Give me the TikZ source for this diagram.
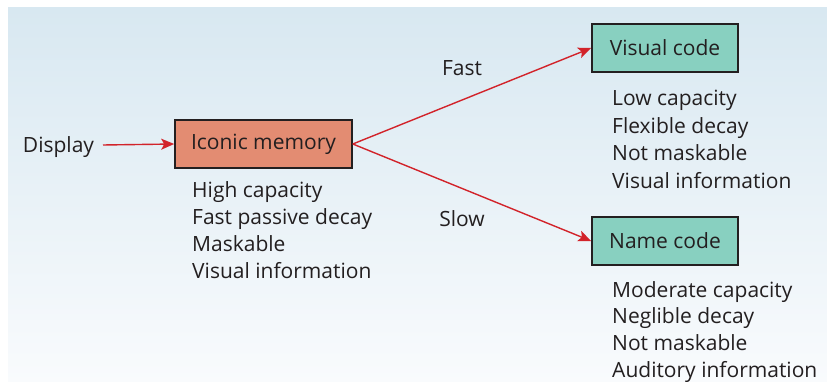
\documentclass[tikz,border=0pt]{standalone}
\usepackage{fontspec}
\setmainfont{Open Sans}
\usetikzlibrary{arrows.meta}
\definecolor{bgtop}{HTML}{D8E8F1}
\definecolor{bgbot}{HTML}{F9FBFD}
\definecolor{iconfill}{HTML}{E38C72}
\definecolor{codefill}{HTML}{88D0C0}
\definecolor{edge}{HTML}{231F20}
\definecolor{arrowred}{HTML}{D2232A}
\tikzset{
  stagebox/.style={draw=edge, line width=1.6pt, minimum height=48pt, inner sep=0pt, font=\fontsize{21}{25}\selectfont, text=edge},
  propline/.style={anchor=base west, inner sep=0pt, font=\fontsize{21}{25}\selectfont, text=edge},
  lbl/.style={anchor=base, font=\fontsize{21}{25}\selectfont, text=edge, inner sep=0pt},
  flow/.style={draw=arrowred, line width=1.4pt, -{Stealth[length=13pt,width=11pt,inset=3pt]}}
}
\begin{document}
\begin{tikzpicture}[x=1pt,y=-1pt]
  \useasboundingbox (0,0) rectangle (827,382);
  \shade[top color=bgtop, bottom color=bgbot] (8,8) rectangle (827,382);

  % stages
  \node[stagebox, fill=iconfill, minimum width=177pt] (icon) at (263.5,144) {Iconic memory};
  \node[stagebox, fill=codefill, minimum width=146pt] (vis) at (665,48) {Visual code};
  \node[stagebox, fill=codefill, minimum width=146pt] (name) at (665,241) {Name code};

  % input
  \node[lbl] (disp) at (58.5,153) {Display};
  \coordinate (din) at (103,145);
  \draw[flow] (din) -- (icon.west);

  % routes
  \draw[flow] (icon.east) -- (vis.west);
  \draw[flow] (icon.east) -- (name.west);
  \node[lbl] (fast) at (462,76) {Fast};
  \node[lbl] (slow) at (462,226) {Slow};

  % properties of each stage
  \foreach \t [count=\i] in {High capacity, Fast passive decay, Maskable, Visual information}
    \node[propline] (iconprop\i) at (192,{197+27.3*(\i-1)}) {\t};
  \foreach \t [count=\i] in {Low capacity, Flexible decay, Not maskable, Visual information}
    \node[propline] (visprop\i) at (612,{106+27.5*(\i-1)}) {\t};
  \foreach \t [count=\i] in {Moderate capacity, Neglible decay, Not maskable, Auditory information}
    \node[propline] (nameprop\i) at (612,{297+26.8*(\i-1)}) {\t};
\end{tikzpicture}
\end{document}
